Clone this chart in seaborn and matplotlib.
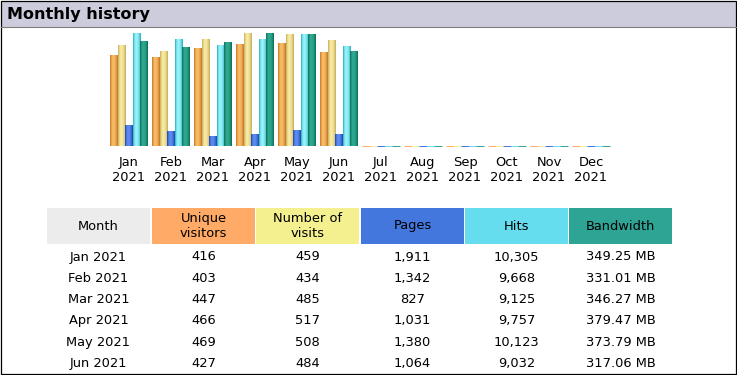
import numpy as np
import pandas as pd
import seaborn as sns
import matplotlib.pyplot as plt
from matplotlib.patches import Rectangle
from matplotlib.colors import to_rgb

# monthly stats (Jul-Dec not yet reached)
months = ["Jan", "Feb", "Mar", "Apr", "May", "Jun", "Jul", "Aug", "Sep", "Oct", "Nov", "Dec"]
year = "2021"
visitors = [416, 403, 447, 466, 469, 427, 0, 0, 0, 0, 0, 0]
visits = [459, 434, 485, 517, 508, 484, 0, 0, 0, 0, 0, 0]
pages = [1911, 1342, 827, 1031, 1380, 1064, 0, 0, 0, 0, 0, 0]
hits = [10305, 9668, 9125, 9757, 10123, 9032, 0, 0, 0, 0, 0, 0]
bandwidth_mb = [349.25, 331.01, 346.27, 379.47, 373.79, 317.06, 0, 0, 0, 0, 0, 0]

series = ["Unique visitors", "Number of visits", "Pages", "Hits", "Bandwidth"]
header_labels = ["Unique\nvisitors", "Number of\nvisits", "Pages", "Hits", "Bandwidth"]
header_colors = ["#FFAA66", "#F4F090", "#4477DD", "#66DDEE", "#2EA495"]
bar_dark = ["#C07020", "#C0A850", "#1840A8", "#20A8B8", "#0A6850"]
bar_light = ["#F8BC66", "#F8EAA4", "#5C8CF2", "#98F4FA", "#2EAA92"]

# awstats scales visitors/visits together, pages/hits together, bandwidth alone
vmax, hmax, bmax = max(visits), max(hits), max(bandwidth_mb)
rows = []
for i, m in enumerate(months):
    rows.append((m, series[0], visitors[i] / vmax))
    rows.append((m, series[1], visits[i] / vmax))
    rows.append((m, series[2], pages[i] / hmax))
    rows.append((m, series[3], hits[i] / hmax))
    rows.append((m, series[4], bandwidth_mb[i] / bmax))
df = pd.DataFrame(rows, columns=["month", "series", "scaled"])

W, H = 737, 375
fig = plt.figure(figsize=(W / 100, H / 100), dpi=100)
fig.patch.set_facecolor("white")

# overlay in pixel coords for the frame, title bar and table
ov = fig.add_axes([0, 0, 1, 1], zorder=0)
ov.set_xlim(0, W)
ov.set_ylim(H, 0)
ov.axis("off")

ov.add_patch(Rectangle((1, 1), W - 2, 25.5, facecolor="#CCCCDD", edgecolor="none"))
ov.plot([1, W - 1], [26.5, 26.5], color="#808080", lw=0.8)
ov.add_patch(Rectangle((0.5, 0.5), W - 1.5, H - 1.5, facecolor="none", edgecolor="black", lw=0.9))
ov.text(7, 14, "Monthly history", fontsize=11.5, fontweight="bold", va="center", ha="left")

# chart
ax = fig.add_axes([108 / W, (H - 146) / H, 504 / W, 113 / H], zorder=2)
sns.barplot(data=df, x="month", y="scaled", hue="series", order=months, hue_order=series,
            palette=dict(zip(series, header_colors)), width=38 / 42, gap=0, saturation=1,
            legend=False, ax=ax)

t = np.linspace(0, 1, 40)
f = np.where(t < 0.4, t / 0.4, (1 - t) / 0.6)
f = np.sin(f * np.pi / 2) ** 0.8
for k, cont in enumerate(ax.containers):
    d, l = np.array(to_rgb(bar_dark[k])), np.array(to_rgb(bar_light[k]))
    grad = (d[None, :] + (l - d)[None, :] * f[:, None])[None, :, :]
    for p in cont.patches:
        x0, w, h = p.get_x(), p.get_width(), p.get_height()
        if h > 0:
            p.set_edgecolor("none")
            ax.imshow(grad, extent=(x0, x0 + w, 0, h), aspect="auto", interpolation="bilinear",
                      zorder=p.get_zorder() + 0.1)
        else:
            p.set_edgecolor(header_colors[k])
            p.set_linewidth(0.7)
            p.set_clip_on(False)

ax.set_xlim(-0.5, 11.5)
ax.set_ylim(0, 1)
ax.set_xticks(range(len(months)))
ax.set_xticklabels([f"{m}\n{year}" for m in months], fontsize=9.4, linespacing=1.25)
ax.tick_params(axis="x", length=0, pad=7)
ax.set_yticks([])
ax.set_xlabel("")
ax.set_ylabel("")
for s in ax.spines.values():
    s.set_visible(False)
ax.patch.set_alpha(0)

# table
col_x = [47, 152, 256, 361, 465, 569]
col_w = 103
ov.add_patch(Rectangle((col_x[0], 208), col_w, 36, facecolor="#ECECEC", edgecolor="none"))
ov.text(col_x[0] + col_w / 2, 226, "Month", fontsize=9.4, ha="center", va="center")
for j, lab in enumerate(header_labels):
    x = col_x[j + 1]
    ov.add_patch(Rectangle((x, 208), col_w, 36, facecolor=header_colors[j], edgecolor="none"))
    ov.text(x + col_w / 2, 226, lab, fontsize=9.4, ha="center", va="center", linespacing=1.2)

for i, m in enumerate(months[:6]):
    y = 257 + i * 21.3
    cells = [f"{m} {year}", f"{visitors[i]:,}", f"{visits[i]:,}", f"{pages[i]:,}",
             f"{hits[i]:,}", f"{bandwidth_mb[i]:.2f} MB"]
    for j, c in enumerate(cells):
        ov.text(col_x[j] + col_w / 2, y, c, fontsize=9.4, ha="center", va="center")

fig.savefig("out.png", dpi=100)
